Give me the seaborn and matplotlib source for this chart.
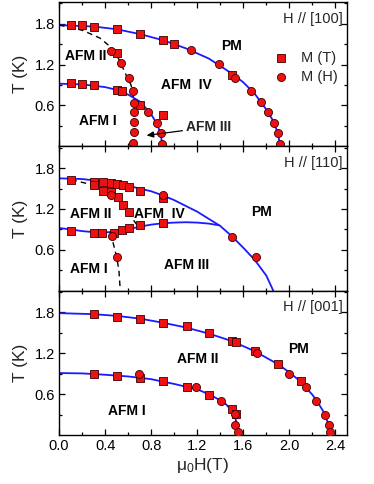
import numpy as np
import pandas as pd
import matplotlib
matplotlib.use("Agg")
import matplotlib.pyplot as plt
from matplotlib.ticker import MultipleLocator, FixedLocator
import seaborn as sns

sns.set_theme(style="ticks")
plt.rcParams['font.family'] = ['Liberation Sans', 'DejaVu Sans']
plt.rcParams['mathtext.default'] = 'regular'

RED = '#ee1111'
EDGE = '#3a0000'
BLUE = '#1a1aff'

# ---------------- H // [100] ----------------
p100_MT_x = [0.10, 0.20, 0.30, 0.50, 0.70, 0.90, 1.00, 1.50,
             0.10, 0.20, 0.30, 0.50, 0.55, 0.70, 0.90, 0.506]
p100_MT_y = [1.78, 1.78, 1.76, 1.72, 1.65, 1.56, 1.50, 1.05,
             0.93, 0.91, 0.90, 0.825, 0.815, 0.60, 0.455, 1.37]
p100_MH_x = [1.145, 1.39, 1.53, 1.67, 1.75, 1.81, 1.87, 1.90, 1.92,
             0.448, 0.535, 0.61, 0.645, 0.65, 0.65, 0.65, 0.65, 0.645,
             0.77, 0.85, 0.885, 0.89]
p100_MH_y = [1.41, 1.21, 1.00, 0.81, 0.65, 0.50, 0.34, 0.19, 0.04,
             1.40, 1.22, 1.005, 0.81, 0.63, 0.505, 0.36, 0.21, 0.05,
             0.505, 0.34, 0.19, 0.04]
p100_fitA_x = [0.0, 0.3, 0.5, 0.7, 0.9, 1.1, 1.3, 1.5, 1.6, 1.7, 1.8, 1.85, 1.9, 1.92]
p100_fitA_y = [1.78, 1.76, 1.72, 1.65, 1.56, 1.44, 1.29, 1.07, 0.94, 0.77, 0.54, 0.40, 0.20, 0.0]
p100_fitB_x = [0.0, 0.2, 0.4, 0.5, 0.6, 0.7, 0.75, 0.8, 0.85, 0.88, 0.90]
p100_fitB_y = [0.92, 0.91, 0.87, 0.83, 0.76, 0.66, 0.57, 0.47, 0.33, 0.20, 0.0]
p100_dash_x = [0.0, 0.1, 0.21, 0.355, 0.448, 0.52, 0.587, 0.625, 0.645, 0.65, 0.65]
p100_dash_y = [1.78, 1.75, 1.70, 1.59, 1.46, 1.28, 1.03, 0.90, 0.78, 0.50, 0.0]

# ---------------- H // [110] ----------------
p110_MT_x = [0.107, 0.30, 0.30, 0.38, 0.45, 0.506, 0.555, 0.607, 0.70, 0.905,
             0.38, 0.45, 0.51, 0.558, 0.607,
             0.107, 0.30, 0.376, 0.48, 0.55, 0.607, 0.70, 0.905]
p110_MT_y = [1.63, 1.595, 1.55, 1.595, 1.58, 1.57, 1.55, 1.52, 1.47, 1.36,
             1.47, 1.445, 1.37, 1.265, 1.15,
             0.876, 0.85, 0.85, 0.85, 0.89, 0.925, 0.96, 0.99]
p110_MH_x = [0.905, 1.50, 1.71, 0.448, 0.457, 0.50]
p110_MH_y = [1.40, 0.79, 0.49, 1.40, 0.80, 0.49]
p110_fitA_x = [0.0, 0.2, 0.4, 0.6, 0.8, 0.9, 1.0, 1.2, 1.4, 1.5, 1.6, 1.7, 1.8, 1.86]
p110_fitA_y = [1.65, 1.64, 1.60, 1.54, 1.46, 1.40, 1.33, 1.16, 0.95, 0.80, 0.63, 0.45, 0.22, 0.0]
p110_fitB_x = [0.0, 0.1, 0.2, 0.3, 0.4, 0.5, 0.6, 0.7, 0.8, 0.9, 1.0, 1.1, 1.2, 1.3, 1.39]
p110_fitB_y = [0.92, 0.90, 0.875, 0.86, 0.855, 0.87, 0.90, 0.94, 0.97, 0.99, 1.00, 1.005, 1.0, 0.985, 0.96]
p110_dashA_x = [0.107, 0.30, 0.45, 0.55, 0.60, 0.64, 0.68]
p110_dashA_y = [1.63, 1.55, 1.44, 1.28, 1.16, 1.05, 0.96]
p110_dashB_x = [0.45, 0.47, 0.50, 0.52, 0.53]
p110_dashB_y = [0.85, 0.70, 0.50, 0.30, 0.05]

# ---------------- H // [001] ----------------
p001_MT_x = [0.306, 0.50, 0.70, 0.905, 1.107, 1.305, 1.50, 1.535, 1.705, 1.90, 2.105,
             0.306, 0.50, 0.70, 0.905, 1.107, 1.305, 1.50, 1.54]
p001_MT_y = [1.77, 1.73, 1.70, 1.65, 1.60, 1.50, 1.38, 1.37, 1.235, 1.04, 0.80,
             0.89, 0.87, 0.84, 0.79, 0.71, 0.585, 0.38, 0.315]
p001_MH_x = [1.72, 1.996, 2.14, 2.23, 2.31, 2.34, 2.35,
             0.694, 1.19, 1.41, 1.53, 1.53, 1.55]
p001_MH_y = [1.205, 0.90, 0.71, 0.50, 0.30, 0.14, 0.05,
             0.90, 0.71, 0.50, 0.315, 0.14, 0.05]
p001_fitA_x = [0.0, 0.3, 0.5, 0.7, 0.9, 1.1, 1.3, 1.5, 1.7, 1.9, 2.0, 2.1, 2.2, 2.25, 2.3, 2.33, 2.35, 2.355]
p001_fitA_y = [1.79, 1.775, 1.75, 1.71, 1.65, 1.58, 1.49, 1.38, 1.23, 1.04, 0.92, 0.78, 0.59, 0.47, 0.33, 0.20, 0.05, 0.0]
p001_fitB_x = [0.0, 0.2, 0.4, 0.6, 0.8, 1.0, 1.2, 1.3, 1.4, 1.45, 1.5, 1.53, 1.55, 1.56]
p001_fitB_y = [0.91, 0.905, 0.885, 0.86, 0.82, 0.75, 0.67, 0.60, 0.51, 0.45, 0.36, 0.25, 0.12, 0.0]

panel_titles = ['H // [100]', 'H // [110]', 'H // [001]']
y_ticks = [0.6, 1.2, 1.8]
x_ticks = [0.0, 0.4, 0.8, 1.2, 1.6, 2.0, 2.4]

fig = plt.figure(figsize=(3.74, 4.84), dpi=100)
gs = fig.add_gridspec(3, 1, left=59/374, right=347/374, top=1-2/484, bottom=1-435/484, hspace=0)
axes = [fig.add_subplot(gs[i]) for i in range(3)]

def curve(ax, x, y, dashed=False):
    if dashed:
        sns.lineplot(x=x, y=y, ax=ax, sort=False, estimator=None, color='black',
                     lw=1.0, linestyle=(0, (4, 3)), zorder=2)
    else:
        sns.lineplot(x=x, y=y, ax=ax, sort=False, estimator=None, color=BLUE,
                     lw=1.3, zorder=2)

def points(ax, xs, ys, marker, label):
    sns.scatterplot(x=xs, y=ys, ax=ax, marker=marker, s=34, color=RED,
                    edgecolor=EDGE, linewidth=0.6, zorder=3, label=label)

txt = dict(fontsize=10, fontweight='bold', ha='center', va='center', color='black')

# panel 1
ax = axes[0]
curve(ax, p100_fitA_x, p100_fitA_y)
curve(ax, p100_fitB_x, p100_fitB_y)
curve(ax, p100_dash_x, p100_dash_y, dashed=True)
points(ax, p100_MT_x, p100_MT_y, 's', 'M (T)')
points(ax, p100_MH_x, p100_MH_y, 'o', 'M (H)')
ax.text(0.235, 1.33, 'AFM II', **txt)
ax.text(1.11, 0.90, 'AFM  IV', **txt)
ax.text(1.50, 1.47, 'PM', **txt)
ax.text(0.34, 0.37, 'AFM I', **txt)
ax.annotate('AFM III', xy=(0.76, 0.16), xytext=(1.1, 0.28), fontsize=10, fontweight='bold',
            ha='left', va='center',
            arrowprops=dict(arrowstyle='-|>,head_length=0.4,head_width=0.18', color='black', lw=0.9,
                            shrinkA=0, shrinkB=0))
ax.legend(loc='upper left', bbox_to_anchor=(0.70, 0.70), frameon=False, fontsize=10.5,
          handletextpad=0.4, labelspacing=0.3, borderaxespad=0, markerscale=1.0)

# panel 2
ax = axes[1]
curve(ax, p110_fitA_x, p110_fitA_y)
curve(ax, p110_fitB_x, p110_fitB_y)
curve(ax, p110_dashA_x, p110_dashA_y, dashed=True)
curve(ax, p110_dashB_x, p110_dashB_y, dashed=True)
points(ax, p110_MT_x, p110_MT_y, 's', None)
points(ax, p110_MH_x, p110_MH_y, 'o', None)
ax.text(0.275, 1.12, 'AFM II', **txt)
ax.text(0.875, 1.12, 'AFM  IV', **txt)
ax.text(1.76, 1.15, 'PM', **txt)
ax.text(0.26, 0.32, 'AFM I', **txt)
ax.text(1.11, 0.38, 'AFM III', **txt)

# panel 3
ax = axes[2]
curve(ax, p001_fitA_x, p001_fitA_y)
curve(ax, p001_fitB_x, p001_fitB_y)
points(ax, p001_MT_x, p001_MT_y, 's', None)
points(ax, p001_MH_x, p001_MH_y, 'o', None)
ax.text(2.075, 1.26, 'PM', **txt)
ax.text(1.20, 1.12, 'AFM II', **txt)
ax.text(0.59, 0.35, 'AFM I', **txt)

for i, ax in enumerate(axes):
    if i > 0 and ax.get_legend() is not None:
        ax.get_legend().remove()
    ax.set_xlim(0, 2.5)
    ax.set_ylim(0, 2.12)
    ax.yaxis.set_major_locator(FixedLocator(y_ticks))
    ax.yaxis.set_minor_locator(FixedLocator([0.3, 0.9, 1.5, 2.1]))
    ax.xaxis.set_major_locator(FixedLocator(x_ticks))
    ax.xaxis.set_minor_locator(MultipleLocator(0.2))
    ax.tick_params(which='both', direction='in', top=True, right=True, width=0.9, colors='black',
                   labelsize=10.5, pad=3)
    ax.tick_params(which='major', length=4)
    ax.tick_params(which='minor', length=2.5)
    ax.set_yticklabels([f'{v:.1f}' for v in y_ticks])
    for s in ax.spines.values():
        s.set_linewidth(1.0)
        s.set_color('black')
    ax.text(0.985, 0.885, panel_titles[i], transform=ax.transAxes, ha='right', va='center',
            fontsize=10.5)
    ax.set_ylabel('T (K)', fontsize=12.5, labelpad=5)
    if i < 2:
        ax.tick_params(labelbottom=False)
        ax.set_xlabel('')
    else:
        ax.set_xticklabels([f'{v:.1f}' for v in x_ticks])
        ax.set_xlabel('μ$_{0}$H(T)', fontsize=12.5, labelpad=2)

fig.savefig('out.png', dpi=100)
